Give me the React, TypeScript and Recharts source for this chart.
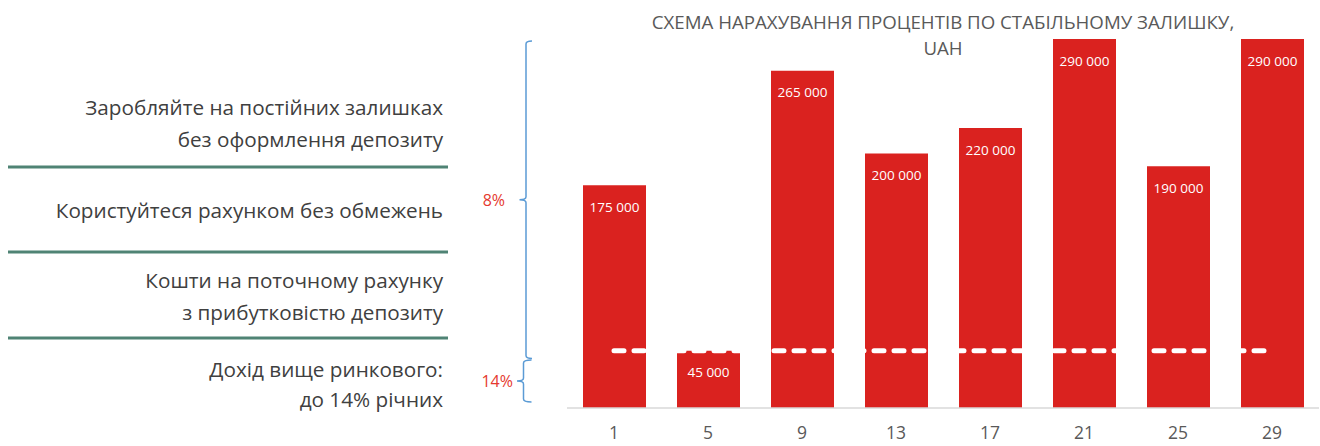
import React from "react";
import {
  ComposedChart,
  Bar,
  Line,
  XAxis,
  YAxis,
  LabelList,
} from "recharts";

// ---- data ----
const days = ["1", "5", "9", "13", "17", "21", "25", "29"];
const balances = [175000, 45000, 265000, 200000, 220000, 290000, 190000, 290000];
const thresholdValue = 45000;
const braceSplitValue = 39000;
const rateLabels = ["8%", "14%"];
const titleLines = ["СХЕМА НАРАХУВАННЯ ПРОЦЕНТІВ ПО СТАБІЛЬНОМУ ЗАЛИШКУ,", "UAH"];
const sideBlocks = [
  ["Заробляйте на постійних залишках", "без оформлення депозиту"],
  ["Користуйтеся рахунком без обмежень"],
  ["Кошти на поточному рахунку", "з прибутковістю депозиту"],
  ["Дохід вище ринкового:", "до 14% річних"],
];

const data = days.map((d, i) => ({
  day: d,
  balance: balances[i],
  threshold: thresholdValue,
}));

// ---- layout ----
const W = 1320;
const H = 446;
const PLOT_LEFT = 567;
const PLOT_RIGHT = 1319;
const PLOT_TOP = 39;
const PLOT_BOTTOM = 408;
const Y_MAX = 290000;
const yPix = (v: number) => PLOT_BOTTOM - (v / Y_MAX) * (PLOT_BOTTOM - PLOT_TOP);

const FONT = "'Open Sans', 'Noto Sans', sans-serif";
const BAR_RED = "#DA221F";
const TEXT_GRAY = "#404040";
const SEP_COLOR = "#4F8374";
const BRACE_BLUE = "#5B9BD5";
const RATE_RED = "#E5392F";

const fmt = (v: any) => {
  const n = Number(v);
  return n.toLocaleString("en-US").replace(/,/g, " ");
};

// left brace path: vertical at x, from y1 to y2, tip at mid pointing left
function bracePath(x: number, y1: number, y2: number, hook: number, tip: number) {
  const m = (y1 + y2) / 2;
  return [
    `M ${x + hook} ${y1}`,
    `Q ${x} ${y1} ${x} ${y1 + 3}`,
    `L ${x} ${m - 3}`,
    `Q ${x} ${m} ${x - tip} ${m}`,
    `Q ${x} ${m} ${x} ${m + 3}`,
    `L ${x} ${y2 - 3}`,
    `Q ${x} ${y2} ${x + hook} ${y2}`,
  ].join(" ");
}

export default function App() {
  const b1Top = yPix(Y_MAX) + 2;
  const b1Bot = yPix(braceSplitValue);
  const b2Top = b1Bot + 1.5;
  const b2Bot = PLOT_BOTTOM - 6;

  // side text line positions
  const lineYs = [[107, 139], [210], [280, 312], [369, 399]];
  const sepYs = [167, 252, 338];

  return (
    <div style={{ position: "absolute", left: 0, top: 0, width: W, height: H, background: "#fff" }}>
      <ComposedChart
        width={W}
        height={H}
        data={data}
        margin={{ top: PLOT_TOP, right: W - PLOT_RIGHT, bottom: 8, left: PLOT_LEFT }}
        barCategoryGap={31}
      >
        <XAxis
          dataKey="day"
          height={H - 8 - PLOT_BOTTOM}
          tickLine={false}
          axisLine={{ stroke: "#D9D9D9", strokeWidth: 1.5 }}
          tick={{ fill: "#595959", fontSize: 17.5, fontFamily: FONT }}
          tickMargin={13}
          interval={0}
        />
        <YAxis hide domain={[0, Y_MAX]} allowDataOverflow />
        <Bar dataKey="balance" fill={BAR_RED} barSize={63} isAnimationActive={false}>
          <LabelList
            dataKey="balance"
            position="insideTop"
            offset={17}
            formatter={fmt}
            style={{ fill: "#ffffff", fontSize: 13.5, fontFamily: FONT }}
          />
        </Bar>
        <Line
          dataKey="threshold"
          stroke="#ffffff"
          strokeWidth={5}
          strokeDasharray="10 10"
          strokeLinecap="round"
          dot={false}
          activeDot={false}
          isAnimationActive={false}
        />
      </ComposedChart>

      <svg
        width={W}
        height={H}
        style={{ position: "absolute", left: 0, top: 0, pointerEvents: "none" }}
      >
        {/* title */}
        {titleLines.map((t, i) => (
          <text
            key={t}
            x={(PLOT_LEFT + PLOT_RIGHT) / 2}
            y={21 + i * 26}
            textAnchor="middle"
            dominantBaseline="central"
            fill="#595959"
            fontSize={18.7}
            fontFamily={FONT}
          >
            {t}
          </text>
        ))}

        {/* side text */}
        {sideBlocks.map((lines, bi) =>
          lines.map((t, li) => (
            <text
              key={bi + "-" + li}
              x={443}
              y={lineYs[bi][li]}
              textAnchor="end"
              dominantBaseline="central"
              fill={TEXT_GRAY}
              fontSize={20.7}
              fontFamily={FONT}
            >
              {t}
            </text>
          ))
        )}
        {sepYs.map((y) => (
          <line key={y} x1={8} x2={448} y1={y} y2={y} stroke={SEP_COLOR} strokeWidth={3} />
        ))}

        {/* braces */}
        <path d={bracePath(526, b1Top, b1Bot, 6, 6.5)} fill="none" stroke={BRACE_BLUE} strokeWidth={1.5} />
        <path d={bracePath(523.5, b2Top, b2Bot, 8, 6.5)} fill="none" stroke={BRACE_BLUE} strokeWidth={1.5} />
        <text
          x={505}
          y={(b1Top + b1Bot) / 2}
          textAnchor="end"
          dominantBaseline="central"
          fill={RATE_RED}
          fontSize={16}
          fontFamily={FONT}
        >
          {rateLabels[0]}
        </text>
        <text
          x={513}
          y={(b2Top + b2Bot) / 2}
          textAnchor="end"
          dominantBaseline="central"
          fill={RATE_RED}
          fontSize={16}
          fontFamily={FONT}
        >
          {rateLabels[1]}
        </text>
      </svg>
    </div>
  );
}
